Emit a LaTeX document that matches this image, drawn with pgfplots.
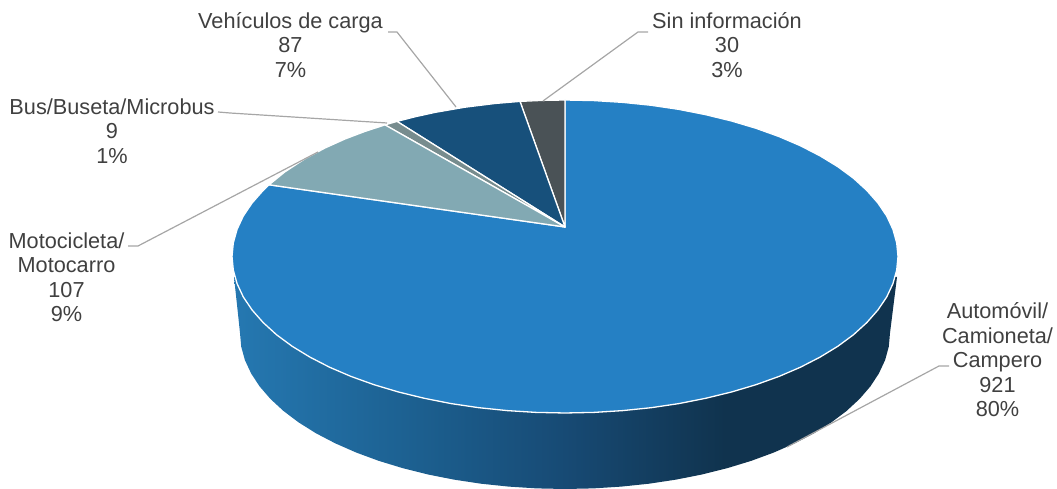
\documentclass[border=0pt]{standalone}
\usepackage{pgfplots}
\pgfplotsset{compat=1.18}
\usepackage{fontspec}
\setmainfont{Liberation Sans}
\definecolor{wa}{HTML}{2578B1}
\definecolor{wb}{HTML}{1C5F8F}
\definecolor{wc}{HTML}{174A74}
\definecolor{wd}{HTML}{10334E}
\definecolor{auto}{HTML}{2580C4}
\definecolor{moto}{HTML}{82A9B3}
\definecolor{busc}{HTML}{778C8E}
\definecolor{carga}{HTML}{17507B}
\definecolor{sinf}{HTML}{4A5256}
\definecolor{lead}{HTML}{A6A6A6}
\definecolor{txt}{HTML}{404040}
\pgfdeclarehorizontalshading{wall}{100bp}{color(0bp)=(wa); color(25bp)=(wa); color(39bp)=(wb); color(50bp)=(wc); color(62bp)=(wd); color(100bp)=(wd)}
\begin{document}
\begin{tikzpicture}
\begin{axis}[
  scale only axis, width=1057pt, height=489pt,
  xmin=0, xmax=1057, ymin=0, ymax=489,
  hide axis, clip=false, no markers,
  every axis plot/.append style={line join=round},
  nodes={font=\fontsize{21.7}{24.5}\selectfont, text=txt, align=center, inner sep=0pt},
]
\path (axis cs:0,0) rectangle (axis cs:1057,489);
% side wall
\addplot[draw=none, shading=wall] coordinates {
 (234,212)(238,175)(240,156)(241.2,142.4)(244.9,128.9)(251.1,115.6)(259.6,102.6)(270.4,90.1)(283.5,78)(298.8,66.5)(316,55.7)(335.2,45.7)(356.1,36.5)(378.6,28.2)(402.5,20.9)(427.6,14.6)(453.8,9.4)(480.9,5.3)(508.6,2.4)(536.7,0.6)
 (565,0)(593.3,0.6)(621.4,2.4)(649.1,5.3)(676.2,9.4)(702.4,14.6)(727.5,20.9)(751.4,28.2)(773.9,36.5)(794.8,45.7)(814,55.7)(831.2,66.5)(846.5,78)(859.6,90.1)(870.4,102.6)(878.9,115.6)(885.1,128.9)(888.8,142.4)(890,156)(897,212)
} -- cycle;
% Automovil
\addplot[fill=auto, draw=white, line width=1.3pt] coordinates {
 (565,262)(269,304.2)(263.2,298.6)(252.1,286.0)(243.3,273.0)(237.1,259.7)(233.3,246.1)(232,232.5)
 (233.3,218.9)(237.1,205.3)(243.3,192.0)(252.1,179.0)(263.2,166.4)(276.6,154.2)(292.2,142.7)(309.9,131.9)(329.5,121.8)(350.9,112.6)(374.0,104.3)(398.5,97.0)(424.3,90.7)(451.1,85.4)(478.8,81.3)(507.2,78.4)(536.0,76.6)
 (565,76)(594.0,76.6)(622.8,78.4)(651.2,81.3)(678.9,85.4)(705.7,90.7)(731.5,97.0)(756.0,104.3)(779.1,112.6)(800.5,121.8)(820.1,131.9)(837.8,142.7)(853.4,154.2)(866.8,166.4)(877.9,179.0)(886.7,192.0)(892.9,205.3)(896.7,218.9)
 (898,232.5)(896.7,246.1)(892.9,259.7)(886.7,273.0)(877.9,286.0)(866.8,298.6)(853.4,310.8)(837.8,322.3)(820.1,333.1)(800.5,343.2)(779.1,352.4)(756.0,360.7)(731.5,368.0)(705.7,374.3)(678.9,379.6)(651.2,383.7)(622.8,386.6)(594.0,388.4)(565,389)
} -- cycle;
% Sin informacion
\addplot[fill=sinf, draw=white, line width=1.3pt] coordinates {
 (565,262)(565,389)(542.5,388.6)(520,387.6)
} -- cycle;
% Vehiculos de carga
\addplot[fill=carga, draw=white, line width=1.3pt] coordinates {
 (565,262)(520,387.6)(495,385.5)(465,381.8)(435,376.6)(415,372.2)(397,367.6)
} -- cycle;
% Bus
\addplot[fill=busc, draw=white, line width=1.3pt] coordinates {
 (565,262)(397,367.6)(385,364.1)
} -- cycle;
% Motocicleta
\addplot[fill=moto, draw=white, line width=1.3pt] coordinates {
 (565,262)(385,364.1)(365,357.6)(345,350.0)(325,341.0)(305,330.3)(285,317.2)(269,304.2)
} -- cycle;
% leader lines
\addplot[lead, line width=1.2pt] coordinates {(388,457)(397,457)(456,382)};
\addplot[lead, line width=1.2pt] coordinates {(648,457)(638,457)(543,388)};
\addplot[lead, line width=1.2pt] coordinates {(218,377)(230,376)(387,366)};
\addplot[lead, line width=1.2pt] coordinates {(128,243)(138,243)(318,337)};
\addplot[lead, line width=1.2pt] coordinates {(949,123)(939,123)(787,42)};
% labels
\node at (axis cs:290.5,444) {Vehículos de carga\\87\\7\%};
\node at (axis cs:727,444) {Sin información\\30\\3\%};
\node at (axis cs:112,358) {Bus/Buseta/Microbus\\9\\1\%};
\node at (axis cs:66.5,212) {Motocicleta/\\Motocarro\\107\\9\%};
\node at (axis cs:997.5,129) {Automóvil/\\Camioneta/\\Campero\\921\\80\%};
\end{axis}
\end{tikzpicture}
\end{document}
